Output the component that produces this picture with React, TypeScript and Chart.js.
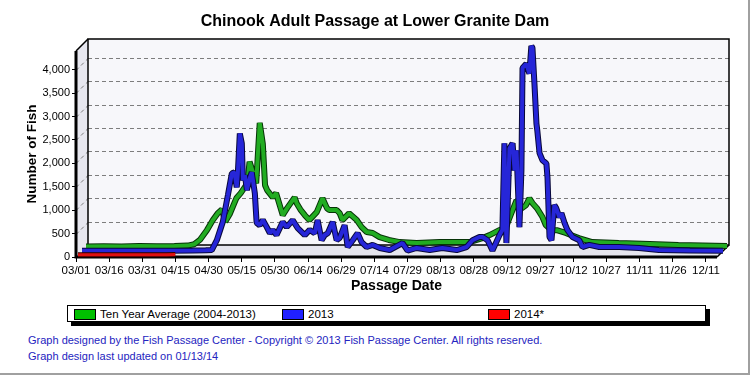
import React, { useEffect, useRef } from 'react';
import { Chart, registerables } from 'chart.js';

Chart.register(...registerables);

// ---- data ----
const tickLabels = ['03/01', '03/16', '03/31', '04/15', '04/30', '05/15', '05/30', '06/14', '06/29', '07/14', '07/29', '08/13', '08/28', '09/12', '09/27', '10/12', '10/27', '11/11', '11/26', '12/11'];
const tickDays = [0, 15, 30, 45, 60, 75, 90, 105, 120, 135, 150, 165, 180, 195, 210, 225, 240, 255, 270, 285];
const yTicks = [0, 500, 1000, 1500, 2000, 2500, 3000, 3500, 4000];

// Ten Year Average (2004-2013): day offset from 03/01, fish count
const avgDays = [0, 8, 16, 24, 32, 40, 46, 49, 51.5, 54.7, 57.4, 59.6, 61.5, 63, 65, 68, 70, 73, 74, 75.5, 77, 78.6, 80, 81, 82, 84.5, 86, 89, 91, 94.4, 95.3, 97, 99, 101, 104.4, 107, 109, 110, 113.4, 114.8, 116, 119, 122.5, 124.7, 127, 129.7, 132.8, 137, 141.9, 149.6, 160, 167.6, 173.5, 179.4, 182.6, 187, 190, 193, 194.8, 196, 199, 200.6, 202, 204, 206.5, 208, 210.6, 213, 217, 223, 229, 241, 255, 268, 290];
const avgValues = [10, 15, 10, 20, 15, 20, 30, 60, 150, 360, 575, 720, 800, 540, 700, 1040, 1150, 1360, 1820, 1600, 1360, 2650, 2200, 1320, 1210, 1060, 1150, 680, 830, 1060, 936, 800, 680, 575, 745, 1040, 830, 790, 790, 720, 575, 720, 575, 425, 320, 300, 210, 150, 105, 85, 105, 105, 105, 190, 255, 360, 425, 790, 1000, 790, 890, 1040, 936, 830, 640, 470, 360, 360, 300, 190, 105, 85, 65, 45, 20];

// 2013
const y2013Days = [0, 10, 20, 30, 40, 50, 56, 58.7, 61, 63.7, 66, 67.8, 69, 70, 70.5, 71.4, 72.3, 72.8, 73.7, 74.6, 76, 76.8, 78.2, 79, 80.4, 81.8, 83.6, 85, 86.3, 88, 90.8, 92.6, 95.3, 97.6, 100.8, 103, 105.3, 106.6, 108.4, 109.8, 111.2, 113.4, 115.2, 116.6, 118.8, 120.2, 122.5, 124.7, 126.5, 128.8, 131.5, 134.7, 139.2, 145, 147.3, 151.4, 157.3, 163, 169.5, 174, 176.7, 179.8, 181.2, 183.5, 185.7, 188.9, 190.2, 191.1, 192, 193.4, 194.8, 195.7, 196.6, 197.9, 198.8, 199.3, 201, 202.4, 203.3, 203.8, 204.7, 205.6, 206, 207, 208.3, 210.1, 210.6, 211.5, 212.4, 213.7, 214.6, 216, 216.9, 218.3, 219.6, 221.9, 225, 226.4, 229.5, 234, 243, 252, 261, 275, 290];
const y2013Values = [5, 5, 5, 5, 8, 10, 15, 20, 230, 620, 1190, 1660, 1680, 1360, 1660, 2510, 2300, 1510, 1620, 1300, 1570, 1680, 1230, 600, 550, 660, 510, 380, 450, 340, 620, 510, 660, 490, 340, 450, 380, 660, 230, 340, 380, 620, 230, 280, 550, 85, 230, 380, 190, 85, 130, 65, 20, 170, 10, 65, 20, 65, 20, 85, 230, 300, 300, 230, 10, 340, 450, 2300, 170, 2190, 2300, 1720, 2150, 510, 1720, 3910, 4000, 3790, 4380, 4340, 3570, 2720, 2570, 2090, 1940, 1870, 1570, 300, 230, 980, 910, 720, 810, 600, 450, 300, 230, 85, 130, 85, 85, 65, 20, 10, 5];

// 2014*
const y2014Days = [0, 10, 20, 30, 40, 44];
const y2014Values = [5, 5, 5, 5, 5, 10];

const seriesNames = ['Ten Year Average (2004-2013)', '2013', '2014*'];

const DEPTH = 12;
const FONT = "'Liberation Sans', Arial, sans-serif";

const toPoints = (days: number[], vals: number[]) => days.map((d, i) => ({ x: d, y: vals[i] }));

const frame3d = {
  id: 'frame3d',
  beforeDatasetsDraw(chart: any) {
    const { ctx, chartArea: a, scales } = chart;
    const ys = scales.y;
    const L = a.left, R = a.right, T = a.top, B = a.bottom, D = DEPTH;
    ctx.save();
    ctx.fillStyle = '#f7f7fa';
    ctx.fillRect(L + D, T - D, R - L, B - T);
    ctx.beginPath();
    ctx.moveTo(L, B); ctx.lineTo(L + D, B - D); ctx.lineTo(L + D, T - D); ctx.lineTo(L, T); ctx.closePath();
    ctx.fillStyle = '#e7e7ef';
    ctx.fill();
    ctx.beginPath();
    ctx.moveTo(L, B); ctx.lineTo(R, B); ctx.lineTo(R + D, B - D); ctx.lineTo(L + D, B - D); ctx.closePath();
    ctx.fillStyle = '#e6e6ee';
    ctx.fill();
    ctx.setLineDash([4, 3]);
    ctx.strokeStyle = '#7d7d7d';
    ctx.lineWidth = 1;
    for (const v of yTicks) {
      if (v === 0) continue;
      const py = Math.round(ys.getPixelForValue(v)) + 0.5;
      ctx.beginPath();
      ctx.moveTo(L + D, py - D); ctx.lineTo(R + D, py - D);
      ctx.moveTo(L, py); ctx.lineTo(L + D, py - D);
      ctx.stroke();
    }
    ctx.setLineDash([]);
    ctx.strokeStyle = '#000';
    ctx.lineWidth = 1.5;
    ctx.strokeRect(L + D, T - D, R - L, B - T);
    ctx.beginPath();
    ctx.moveTo(L, T); ctx.lineTo(L + D, T - D);
    ctx.moveTo(R, B); ctx.lineTo(R + D, B - D);
    ctx.stroke();
    ctx.lineWidth = 3;
    ctx.beginPath();
    ctx.moveTo(L, T); ctx.lineTo(L, B); ctx.lineTo(R, B);
    ctx.stroke();
    ctx.restore();
  },
  beforeDatasetDraw(chart: any, args: any) {
    const ds = chart.data.datasets[args.index];
    const d = ds.depth || 0;
    chart.ctx.save();
    chart.ctx.translate(d, -d);
  },
  afterDatasetDraw(chart: any) {
    chart.ctx.restore();
  },
};

const ribbon = (label: string, data: any[], color: string, outline: string, depth: number, isOutline: boolean, w: number) => ({
  label,
  data,
  depth,
  borderColor: isOutline ? outline : color,
  backgroundColor: color,
  borderWidth: isOutline ? w + 2 : w,
  borderJoinStyle: 'bevel',
  pointRadius: 0,
  tension: 0,
  fill: false,
  clip: false,
});

export default function App() {
  const ref = useRef<HTMLCanvasElement | null>(null);

  useEffect(() => {
    if (!ref.current) return;
    const avg = toPoints(avgDays, avgValues);
    const d13 = toPoints(y2013Days, y2013Values);
    const d14 = toPoints(y2014Days, y2014Values);
    const chart = new Chart(ref.current, {
      type: 'line',
      data: {
        datasets: [
          ribbon(seriesNames[2], d14, '#e01010', '#3a0000', 2, false, 3),
          ribbon(seriesNames[2], d14, '#e01010', '#3a0000', 2, true, 3),
          ribbon(seriesNames[1], d13, '#2626d8', '#08083a', 6, false, 4),
          ribbon(seriesNames[1], d13, '#2626d8', '#08083a', 6, true, 4),
          ribbon(seriesNames[0], avg, '#22ac22', '#063306', 10, false, 4),
          ribbon(seriesNames[0], avg, '#22ac22', '#063306', 10, true, 4),
        ] as any,
      },
      options: {
        animation: false,
        responsive: false,
        maintainAspectRatio: false,
        layout: { padding: { left: 0, right: 0, top: 0, bottom: 3 } },
        font: { family: FONT },
        plugins: {
          legend: { display: false },
          tooltip: { enabled: false },
          title: {
            display: true,
            text: 'Chinook Adult Passage at Lower Granite Dam',
            color: '#000',
            font: { family: FONT, size: 16, weight: 'bold', lineHeight: 1.2 },
            padding: { top: 12, bottom: 19.8 },
          },
        },
        scales: {
          x: {
            type: 'linear',
            min: 0,
            max: 290,
            afterFit: (s: any) => { s.height = 40; },
            afterBuildTicks: (s: any) => { s.ticks = tickDays.map((v) => ({ value: v })); },
            ticks: {
              autoSkip: false,
              maxRotation: 0,
              padding: 2,
              color: '#000',
              font: { family: FONT, size: 11.5 },
              callback: (v: any) => { const i = tickDays.indexOf(Number(v)); return i >= 0 ? tickLabels[i] : ''; },
            },
            grid: { display: true, drawOnChartArea: false, drawTicks: true, tickLength: 5, color: '#000', lineWidth: 1 },
            border: { display: false },
            title: {
              display: true,
              text: 'Passage Date',
              color: '#000',
              font: { family: FONT, size: 14, weight: 'bold', lineHeight: 1.2 },
              padding: { top: 0, bottom: 2 },
            },
          },
          y: {
            type: 'linear',
            min: 0,
            max: 4400,
            afterFit: (s: any) => { s.width = 76; },
            afterBuildTicks: (s: any) => { s.ticks = yTicks.map((v) => ({ value: v })); },
            ticks: {
              padding: 2,
              color: '#000',
              font: { family: FONT, size: 11 },
              callback: (v: any) => Number(v).toLocaleString('en-US'),
            },
            grid: { display: true, drawOnChartArea: false, drawTicks: true, tickLength: 4, color: '#000', lineWidth: 1 },
            border: { display: false },
            title: {
              display: true,
              text: 'Number of Fish',
              color: '#000',
              font: { family: FONT, size: 13.5, weight: 'bold', lineHeight: 1.2 },
              padding: { top: 24, bottom: 0 },
            },
          },
          yR: {
            type: 'linear',
            position: 'right',
            min: 0,
            max: 4400,
            afterFit: (s: any) => { s.width = 33; },
            ticks: { display: false },
            grid: { display: false },
            border: { display: false },
          },
        },
      } as any,
      plugins: [frame3d],
    });
    return () => chart.destroy();
  }, []);

  const legendItem = (left: number, color: string, text: string) => (
    <div style={{ position: 'absolute', left, top: 2, display: 'flex', alignItems: 'center', height: 12 }}>
      <div style={{ width: 20, height: 9, background: color, border: '1px solid #000' }} />
      <span style={{ marginLeft: 4, fontSize: 11.5, lineHeight: '12px', color: '#000' }}>{text}</span>
    </div>
  );

  return (
    <div style={{ position: 'absolute', left: 0, top: 0, width: 750, height: 375, background: '#fff', boxSizing: 'border-box', borderRight: '2px solid #a0a0a0', borderBottom: '2px solid #a0a0a0', fontFamily: FONT, overflow: 'hidden' }}>
      <canvas ref={ref} width={750} height={300} style={{ position: 'absolute', left: 0, top: 0, width: 750, height: 300 }} />
      <div style={{ position: 'absolute', left: 67, top: 305, width: 637, height: 15, border: '1px solid #000', background: '#fff', boxShadow: '4px 4px 0 #000' }}>
        {legendItem(6, '#00c000', seriesNames[0])}
        {legendItem(214, '#2020ff', seriesNames[1])}
        {legendItem(420, '#ff0000', seriesNames[2])}
      </div>
      <div style={{ position: 'absolute', left: 28, top: 332, fontSize: 11, lineHeight: '16px', color: '#2424c0', whiteSpace: 'nowrap' }}>
        <div>Graph designed by the Fish Passage Center - Copyright © 2013 Fish Passage Center. All rights reserved.</div>
        <div>Graph design last updated on 01/13/14</div>
      </div>
    </div>
  );
}
